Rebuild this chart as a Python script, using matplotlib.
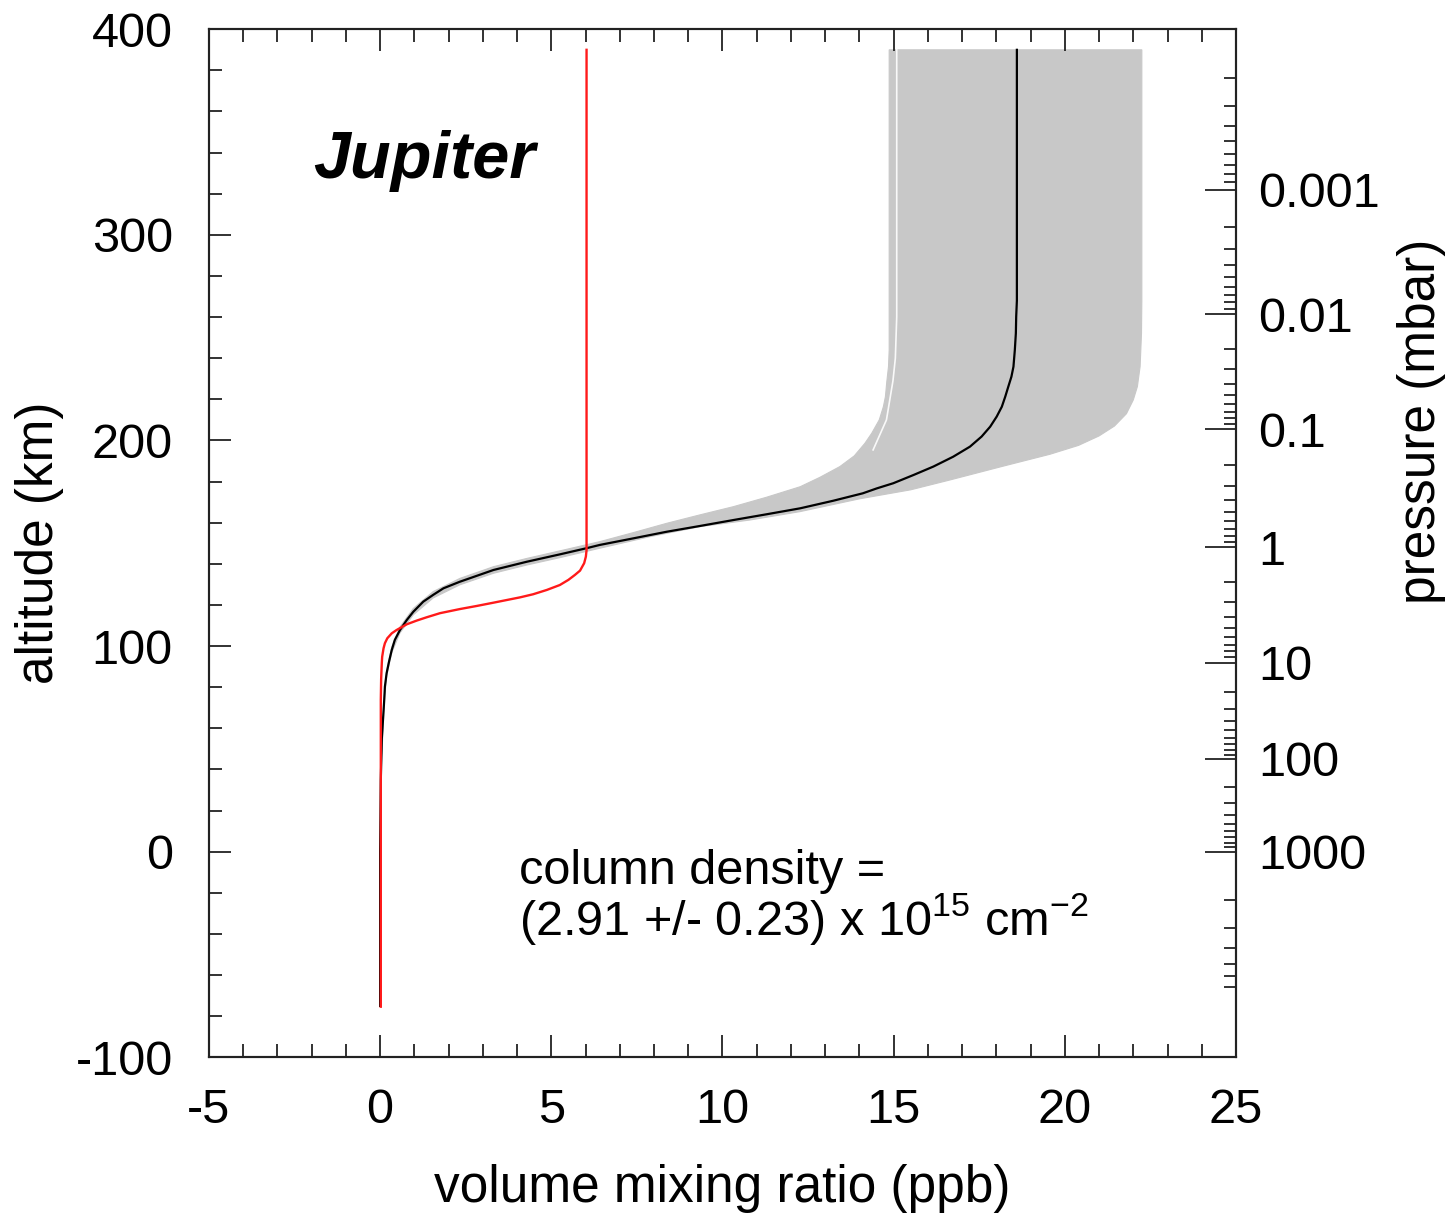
"""Jupiter vertical profile: volume mixing ratio vs altitude, with pressure scale."""

import matplotlib

matplotlib.use("Agg")
import matplotlib.pyplot as plt
import numpy as np

BAND, RED = "#c8c8c8", "#ff1a1a"
plt.rcParams.update(
    {
        "font.family": ["Liberation Sans", "DejaVu Sans"],
        "mathtext.default": "regular",
        "axes.linewidth": 1.5,
        "axes.edgecolor": "#222222",
        "xtick.color": "#222222",
        "ytick.color": "#222222",
        "xtick.labelcolor": "black",
        "ytick.labelcolor": "black",
    }
)

# spread of retrieved profiles (grey envelope): left/upper and right/lower edges
band_left_x = [14.87, 14.87, 14.85, 14.8, 14.76, 14.7, 14.58, 14.36, 14.16, 13.85,
               13.43, 12.85, 12.27, 11.29, 10.32, 9.34, 8.37, 7.40, 6.42, 5.25,
               4.28, 3.31, 2.33, 1.55, 0.97, 0.58, 0.34, 0.19, 0.12, 0.02, 0.0]
band_left_alt = [390, 244, 235.9, 228.5, 221.3, 216.4, 210, 203.5, 198.6, 192.5,
                 187.3, 182.1, 177.5, 172.4, 167.8, 163.8, 159.7, 155.2, 150.8, 146.3,
                 142.6, 138.6, 132.9, 126.5, 118.3, 109.3, 99.5, 88, 75, 40, -75]
band_right_x = [22.25, 22.25, 22.24, 22.2, 22.12, 22.0, 21.8, 21.45, 21.0, 20.4,
                19.57, 18.2, 16.65, 15.5, 14.0, 12.27, 10.8, 9.35, 7.88, 6.42, 5.25,
                4.28, 3.31, 2.33, 1.55, 0.97, 0.58, 0.34, 0.19, 0.12, 0.02, 0.0]
band_right_alt = [390, 268, 252, 236, 226.2, 219.7, 213.0, 207.0, 202.2, 197.6,
                  193.3, 187.5, 180.8, 176, 171.6, 165.4, 161.3, 158.1, 153.2, 147.6,
                  143.0, 139.4, 135.4, 129.8, 123.4, 115.2, 106.4, 96.8, 85.6, 72.6,
                  35, -75]
# thin gap between profiles near the left edge
gap_x = [15.09, 15.09, 15.05, 14.98, 14.79, 14.4]
gap_alt = [390, 260, 240, 229, 210, 195.4]

# best-fit profile
best_x = [18.6, 18.6, 18.58, 18.57, 18.54, 18.5, 18.44, 18.35, 18.26, 18.16, 18.01,
          17.82, 17.57, 17.23, 16.74, 16.16, 15.58, 14.99, 14.51, 14.1, 13.24, 12.27,
          11.29, 10.32, 9.34, 8.37, 7.40, 6.42, 6.03, 5.25, 4.28, 3.31, 2.33, 1.85,
          1.55, 1.26, 0.97, 0.78, 0.58, 0.43, 0.34, 0.26, 0.19, 0.14, 0.12, 0.05,
          0.02, 0.0, 0.0]
best_alt = [390, 268, 260.2, 252.1, 244, 235.9, 231, 226.2, 221.3, 216.4, 211.6,
            206.7, 201.9, 197, 192.1, 187.3, 183.2, 179.2, 176.7, 174.3, 170.7, 167,
            164.1, 161.3, 158.4, 155.6, 152.4, 149.2, 147.6, 144.6, 141, 137, 131.3,
            128.1, 124.9, 121.6, 116.7, 112.7, 107.8, 103, 98.1, 92.4, 86.8, 80.3,
            73.8, 55, 35, 0, -75]

# a-priori profile
prior_x = [6.03, 6.03, 6.01, 5.96, 5.84, 5.69, 5.50, 5.25, 4.87, 4.47, 4.09, 3.70,
           3.31, 2.82, 2.33, 1.75, 1.36, 1.07, 0.78, 0.48, 0.34, 0.21, 0.14, 0.10,
           0.06, 0.05, 0.03, 0.02, 0.02]
prior_alt = [390, 146.7, 143.5, 140.3, 136.7, 134.6, 132.2, 129.7, 127.3, 125.2,
             123.7, 122.4, 121.1, 119.5, 118.0, 116, 114.0, 112.4, 110.6, 107.8,
             106.2, 103.8, 101.4, 98.9, 94.8, 92, 84, 73.8, -75.4]

# pressure levels (mbar) and the altitude they sit at
p_levels = [1e-4, 1e-3, 1e-2, 1e-1, 1, 10, 100, 1000, 10000]
p_alt = [400, 322.0, 261.4, 205.4, 148.1, 92.0, 45.1, 0.0, -78]
p_labels = ["0.001", "0.01", "0.1", "1", "10", "100", "1000"]

fig = plt.figure(figsize=(14.5, 12.14), dpi=100)
ax = fig.add_axes([0.1441, 0.1291, 0.7083, 0.8468])

ax.fill(
    band_left_x + band_right_x[::-1],
    band_left_alt + band_right_alt[::-1],
    color=BAND,
    lw=0.8,
    ec=BAND,
)
ax.plot(gap_x, gap_alt, color="white", lw=1.2, alpha=0.9)
ax.plot(best_x, best_alt, color="black", lw=1.6)
ax.plot(prior_x, prior_alt, color=RED, lw=1.7)

ax.set_xlim(-5, 25)
ax.set_ylim(-100, 400)
ax.set_xticks(np.arange(-5, 26, 5))
ax.set_xticks(np.arange(-5, 26, 1), minor=True)
ax.set_yticks(np.arange(-100, 401, 100))
ax.set_yticks(np.arange(-100, 401, 20), minor=True)
ax.set_yticklabels(["-100", "0", "100", "200", "300", "400"])
ax.set_xticklabels(["-5", "0", "5", "10", "15", "20", "25"])
ax.tick_params(axis="x", which="both", direction="in", top=True, bottom=True,
               labelsize=35, pad=22)
ax.tick_params(axis="y", which="both", direction="in", left=True, right=False,
               labelsize=35, pad=26)
ax.tick_params(which="major", length=16, width=1.3)
ax.tick_params(which="minor", length=9.5, width=1.3)

ax.set_xlabel("volume mixing ratio (ppb)", fontsize=37)
ax.set_ylabel("altitude (km)", fontsize=37)
ax.xaxis.set_label_coords(0.5, -0.104)
ax.yaxis.set_label_coords(-0.141, 0.5)

# pressure scale on the right
ax2 = ax.twinx()
ax2.set_ylim(ax.get_ylim())
logp = np.log10(p_levels)
major_alt = p_alt[1:-1]
minor_alt = []
for n in range(-4, 4):
    for k in range(2, 10):
        if n == 3 and k > 7:
            continue
        minor_alt.append(np.interp(np.log10(k * 10.0**n), logp, p_alt))
ax2.set_yticks(major_alt)
ax2.set_yticklabels(p_labels)
ax2.set_yticks(minor_alt, minor=True)
ax2.tick_params(axis="y", which="both", direction="in", left=False, right=True,
                labelsize=35, pad=16)
ax2.tick_params(axis="y", which="major", length=22, width=1.3)
ax2.tick_params(axis="y", which="minor", length=8.6, width=1.3)
ax2.text(1.181, 0.619, "pressure (mbar)", transform=ax2.transAxes, rotation=90,
         ha="center", va="center", fontsize=37)

ax.text(-1.96, 327.6, "Jupiter", fontsize=48, fontweight="bold", fontstyle="italic",
        ha="left", va="baseline")
# two-line note, anchored on the baseline of its last line
ax.text(
    4.06,
    -40.5,
    "column density =\n" r"(2.91 +/- 0.23) x 10$^{15}$ cm$^{-2}$",
    fontsize=35,
    ha="left",
    va="baseline",
    linespacing=0.92,
)

fig.savefig("out.png", dpi=100)
